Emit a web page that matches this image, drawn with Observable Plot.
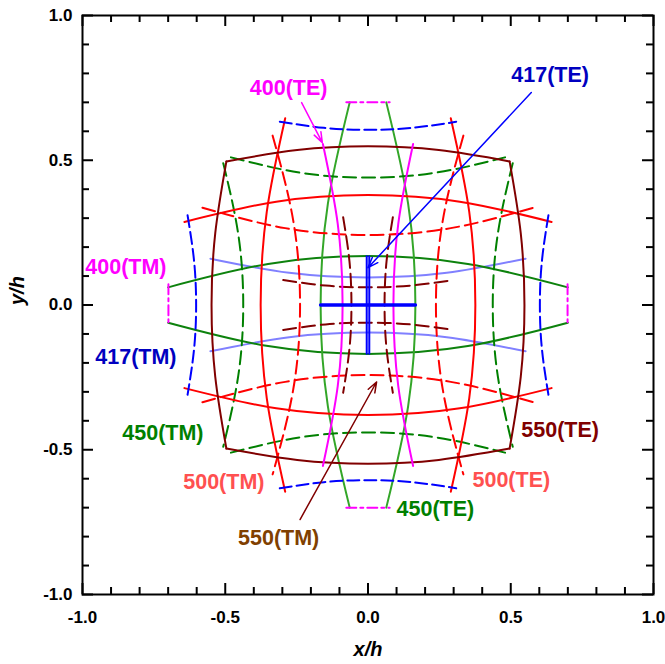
<!DOCTYPE html>
<html>
<head>
<meta charset="utf-8">
<script src="https://cdn.jsdelivr.net/npm/d3@7"></script>
<script src="https://cdn.jsdelivr.net/npm/@observablehq/plot@0.6"></script>
<style>
  body { margin: 0; background: #fff; }
</style>
</head>
<body>
<div id="chart"></div>
<script>
// ---- Axis ticks ----
const majorTicks = [-1, -0.5, 0, 0.5, 1];
const minorTicks = [-0.9, -0.8, -0.7, -0.6, -0.4, -0.3, -0.2, -0.1, 0.1, 0.2, 0.3, 0.4, 0.6, 0.7, 0.8, 0.9];

// ---- Curves: each curve is a list of [x/h, y/h] points ----
// 400(TE): magenta solid, vertical
const te400V = [
  [[-0.158, 0.556], [-0.106, 0.28], [-0.089, 0], [-0.106, -0.28], [-0.158, -0.556]],
  [[0.158, 0.556], [0.106, 0.28], [0.089, 0], [0.106, -0.28], [0.158, -0.556]]
];
// light blue solid, horizontal
const te400H = [
  [[-0.552, 0.16], [-0.276, 0.111], [0, 0.095], [0.276, 0.111], [0.552, 0.16]],
  [[-0.552, -0.16], [-0.276, -0.111], [0, -0.095], [0.276, -0.111], [0.552, -0.16]]
];
// 417(TE): blue solid cross
const te417H = [
  [[-0.166, 0], [0, 0], [0.166, 0]]
];
const te417V = [
  [[-0.0045, 0.168], [-0.0045, -0.168]],
  [[0.0045, 0.168], [0.0045, -0.168]]
];
// 417(TM): blue dashed
const tm417 = [
  [[-0.632, 0.31], [-0.6095, 0.155], [-0.602, 0], [-0.6095, -0.155], [-0.632, -0.31]],
  [[0.632, 0.31], [0.6095, 0.155], [0.602, 0], [0.6095, -0.155], [0.632, -0.31]],
  [[-0.309, 0.633], [-0.1545, 0.612], [0, 0.605], [0.1545, 0.612], [0.309, 0.633]],
  [[-0.309, -0.633], [-0.1545, -0.612], [0, -0.605], [0.1545, -0.612], [0.309, -0.633]]
];
// 400(TM): magenta dash-dot
const tm400 = [
  [[-0.076, 0.70], [0.076, 0.70]],
  [[-0.076, -0.70], [0.076, -0.70]],
  [[-0.699, 0.072], [-0.699, -0.072]],
  [[0.699, 0.072], [0.699, -0.072]]
];
// 450(TE): green solid
const te450V = [
  [[-0.064, 0.70], [-0.1405, 0.35], [-0.166, 0], [-0.1405, -0.35], [-0.064, -0.70]],
  [[0.064, 0.70], [0.1405, 0.35], [0.166, 0], [0.1405, -0.35], [0.064, -0.70]]
];
const te450H = [
  [[-0.70, 0.061], [-0.35, 0.142], [0, 0.169], [0.35, 0.142], [0.70, 0.061]],
  [[-0.70, -0.061], [-0.35, -0.142], [0, -0.169], [0.35, -0.142], [0.70, -0.061]]
];
// 450(TM): green dashed
const tm450 = [
  [[-0.507, 0.49], [-0.4545, 0.245], [-0.437, 0], [-0.4545, -0.245], [-0.507, -0.49]],
  [[0.507, 0.49], [0.4545, 0.245], [0.437, 0], [0.4545, -0.245], [0.507, -0.49]],
  [[-0.48, 0.51], [-0.24, 0.4575], [0, 0.44], [0.24, 0.4575], [0.48, 0.51]],
  [[-0.48, -0.51], [-0.24, -0.4575], [0, -0.44], [0.24, -0.4575], [0.48, -0.51]]
];
// 500(TE): red solid
const te500 = [
  [[-0.29, 0.645], [-0.3545, 0.3225], [-0.376, 0], [-0.3545, -0.3225], [-0.29, -0.645]],
  [[0.29, 0.645], [0.3545, 0.3225], [0.376, 0], [0.3545, -0.3225], [0.29, -0.645]],
  [[-0.643, 0.287], [-0.3215, 0.357], [0, 0.38], [0.3215, 0.357], [0.643, 0.287]],
  [[-0.643, -0.287], [-0.3215, -0.357], [0, -0.38], [0.3215, -0.357], [0.643, -0.287]]
];
// 500(TM): red dashed
const tm500 = [
  [[-0.334, 0.585], [-0.262, 0.2925], [-0.238, 0], [-0.262, -0.2925], [-0.334, -0.585]],
  [[0.334, 0.585], [0.262, 0.2925], [0.238, 0], [0.262, -0.2925], [0.334, -0.585]],
  [[-0.58, 0.336], [-0.29, 0.2655], [0, 0.242], [0.29, 0.2655], [0.58, 0.336]],
  [[-0.58, -0.336], [-0.29, -0.2655], [0, -0.242], [0.29, -0.2655], [0.58, -0.336]]
];
// 550(TE): dark red solid, closed outline
const te550 = [
  [[-0.496, 0.496], [-0.248, 0.535], [0, 0.548], [0.248, 0.535], [0.496, 0.496]],
  [[0.496, 0.496], [0.535, 0.248], [0.548, 0], [0.535, -0.248], [0.496, -0.496]],
  [[0.496, -0.496], [0.248, -0.535], [0, -0.548], [-0.248, -0.535], [-0.496, -0.496]],
  [[-0.496, -0.496], [-0.535, -0.248], [-0.548, 0], [-0.535, 0.248], [-0.496, 0.496]]
];
// 550(TM): dark red dashed
const tm550 = [
  [[-0.087, 0.303], [-0.065, 0.1515], [-0.058, 0], [-0.065, -0.1515], [-0.087, -0.303]],
  [[0.087, 0.303], [0.065, 0.1515], [0.058, 0], [0.065, -0.1515], [0.087, -0.303]],
  [[-0.297, 0.086], [-0.1485, 0.067], [0, 0.061], [0.1485, 0.067], [0.297, 0.086]],
  [[-0.297, -0.086], [-0.1485, -0.067], [0, -0.061], [0.1485, -0.067], [0.297, -0.086]]
];

// ---- Labels ----
const labelText = ["400(TE)", "417(TE)", "400(TM)", "417(TM)", "450(TM)", "500(TM)", "550(TM)", "550(TE)", "500(TE)", "450(TE)"];
const labelX = [-0.278, 0.638, -0.848, -0.813, -0.7185, -0.505, -0.313, 0.673, 0.502, 0.236];
const labelY = [0.75, 0.795, 0.13, -0.18, -0.442, -0.611, -0.804, -0.433, -0.605, -0.706];
const labelColor = ["#ff00ff", "#0000c0", "#ff00ff", "#0000c0", "#008000", "#ff5050", "#804000", "#800000", "#ff5050", "#008000"];

// ---- Arrows (label -> curve) ----
const arrowX1 = [-0.2325, 0.572, -0.238];
const arrowY1 = [0.699, 0.734, -0.741];
const arrowX2 = [-0.160, 0.0, 0.03];
const arrowY2 = [0.561, 0.129, -0.266];
const arrowColor = ["#ff00ff", "#0000ff", "#800000"];

// ---- build ----
const rows = (curves, key) => curves.flatMap((c, i) => c.map(([x, y]) => ({x, y, k: key + i})));
const curveMark = (curves, key, stroke, extra = {}) =>
  Plot.line(rows(curves, key), {x: "x", y: "y", z: "k", stroke, strokeWidth: 2, curve: "natural", ...extra});

const W = 665 - 82 - 12;
const H = 664 - 15 - 70;
const font = "'Liberation Sans', Arial, Helvetica, sans-serif";
const dash = "13,6";

const arrows = arrowX1.map((x1, i) => ({x1, y1: arrowY1[i], x2: arrowX2[i], y2: arrowY2[i], c: arrowColor[i]}));

const chart = Plot.plot({
  width: 665,
  height: 664,
  marginLeft: 82,
  marginRight: 12,
  marginTop: 15,
  marginBottom: 70,
  x: {domain: [-1, 1], label: null},
  y: {domain: [-1, 1], label: null},
  style: {background: "white", fontFamily: font, fontSize: "17px", fontWeight: "bold", color: "black"},
  marks: [
    // curves
    curveMark(te400H, "lb", "#8080ff"),
    curveMark(te450H, "gh", "#0d820d"),
    curveMark(te450V, "gv", "#33a628"),
    curveMark(tm450, "gd", "#008000", {strokeDasharray: dash}),
    curveMark(te500, "r", "#ff0000"),
    curveMark(tm500, "rd", "#ff0000", {strokeDasharray: dash}),
    curveMark(te550, "m", "#800000"),
    curveMark(tm550, "md", "#800000", {strokeDasharray: dash}),
    curveMark(tm417, "bd", "#0000ff", {strokeDasharray: "12,5"}),
    curveMark(tm400, "pd", "#ff00ff", {strokeDasharray: "10,4,3,4"}),
    curveMark(te400V, "p", "#ff00ff"),
    curveMark(te417H, "bh", "#0000ff", {strokeWidth: 3.5}),
    curveMark(te417V, "bv", "#0000ff", {strokeWidth: 2}),
    // arrows
    ...arrows.map(a => Plot.arrow([a], {x1: "x1", y1: "y1", x2: "x2", y2: "y2", stroke: a.c, strokeWidth: 1.5, headLength: 11, headAngle: 40})),
    // labels
    ...labelText.map((t, i) => Plot.text([t], {x: () => labelX[i], y: () => labelY[i], text: d => d, fill: labelColor[i], fontSize: 21.5, fontWeight: "bold", fontFamily: font})),
    // frame and ticks
    Plot.frame({stroke: "black", strokeWidth: 2}),
    Plot.tickX(majorTicks, {x: d => d, insetTop: H - 11, strokeWidth: 2}),
    Plot.tickX(majorTicks, {x: d => d, insetBottom: H - 11, strokeWidth: 2}),
    Plot.tickY(majorTicks, {y: d => d, insetRight: W - 11, strokeWidth: 2}),
    Plot.tickY(majorTicks, {y: d => d, insetLeft: W - 11, strokeWidth: 2}),
    Plot.tickX(minorTicks, {x: d => d, insetTop: H - 7, strokeWidth: 2}),
    Plot.tickX(minorTicks, {x: d => d, insetBottom: H - 7, strokeWidth: 2}),
    Plot.tickY(minorTicks, {y: d => d, insetRight: W - 7, strokeWidth: 2}),
    Plot.tickY(minorTicks, {y: d => d, insetLeft: W - 7, strokeWidth: 2}),
    // axes tick labels
    Plot.axisX(majorTicks, {anchor: "bottom", tickSize: 0, tickPadding: 16, tickFormat: d => d.toFixed(1), label: null}),
    Plot.axisY(majorTicks, {anchor: "left", tickSize: 0, tickPadding: 10, tickFormat: d => d.toFixed(1), label: null}),
    // axis titles
    Plot.text(["x/h"], {text: d => d, frameAnchor: "bottom", dy: 61, fontSize: 20, fontStyle: "italic", fontWeight: "bold", fontFamily: font}),
    Plot.text(["y/h"], {text: d => d, frameAnchor: "left", dx: -65, rotate: -90, fontSize: 20, fontStyle: "italic", fontWeight: "bold", fontFamily: font})
  ]
});
document.getElementById("chart").appendChild(chart);
</script>
</body>
</html>
